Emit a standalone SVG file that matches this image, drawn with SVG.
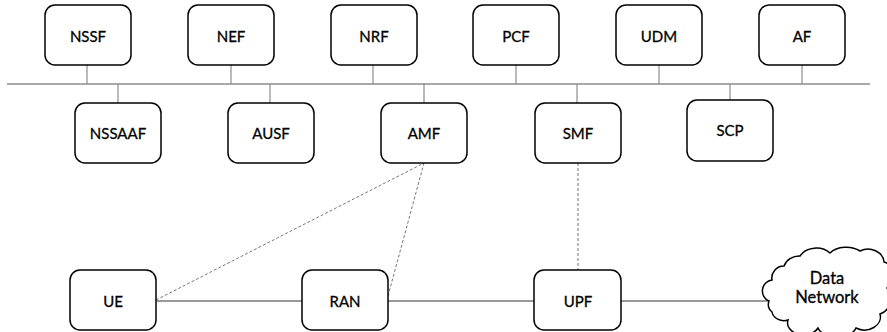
<svg xmlns="http://www.w3.org/2000/svg" width="887" height="332" viewBox="0 0 887 332">
<style>
.box{fill:#fff;stroke:#000;stroke-width:1.5}
.lbl{font-family:Lato,"Open Sans","Liberation Sans",sans-serif;font-size:15px;fill:#000;stroke:#000;stroke-width:0.3;text-anchor:middle;dominant-baseline:central}
.big{font-size:16.5px}
.bus{stroke:#8c8c8c;stroke-width:1.5;fill:none}
.stem{stroke:#8c8c8c;stroke-width:1.2;fill:none}
.link{stroke:#999;stroke-width:2;fill:none}
.dash{stroke:#777;stroke-width:1;stroke-dasharray:3 2;fill:none}
</style>
<rect width="887" height="332" fill="#fff"/>
<g id="connectors">
<line class="bus" x1="7" y1="84" x2="870" y2="84"/>
<line class="stem" x1="87" y1="65" x2="87" y2="84"/>
<line class="stem" x1="231" y1="65" x2="231" y2="84"/>
<line class="stem" x1="373" y1="65" x2="373" y2="84"/>
<line class="stem" x1="516" y1="65" x2="516" y2="84"/>
<line class="stem" x1="659" y1="65" x2="659" y2="84"/>
<line class="stem" x1="802" y1="65" x2="802" y2="84"/>
<line class="stem" x1="118" y1="84" x2="118" y2="103"/>
<line class="stem" x1="270" y1="84" x2="270" y2="103"/>
<line class="stem" x1="424" y1="84" x2="424" y2="103"/>
<line class="stem" x1="577" y1="84" x2="577" y2="103"/>
<line class="stem" x1="730" y1="84" x2="730" y2="100"/>
<line class="link" x1="156" y1="301" x2="302" y2="301"/>
<line class="link" x1="388" y1="301" x2="534" y2="301"/>
<line class="link" x1="621" y1="301" x2="768" y2="301"/>
<line class="dash" x1="156" y1="300" x2="424" y2="163"/>
<line class="dash" x1="388" y1="296" x2="424" y2="163"/>
<line class="dash" x1="578" y1="163" x2="578" y2="270"/>
</g>
<g id="NSSF"><rect class="box" x="45" y="5" width="86" height="60" rx="10"/><text class="lbl" x="88" y="36">NSSF</text></g>
<g id="NEF"><rect class="box" x="188" y="5" width="86" height="60" rx="10"/><text class="lbl" x="231" y="36">NEF</text></g>
<g id="NRF"><rect class="box" x="331" y="5" width="86" height="60" rx="10"/><text class="lbl" x="374" y="36">NRF</text></g>
<g id="PCF"><rect class="box" x="473" y="5" width="86" height="60" rx="10"/><text class="lbl" x="516" y="36">PCF</text></g>
<g id="UDM"><rect class="box" x="616" y="5" width="86" height="60" rx="10"/><text class="lbl" x="659" y="36">UDM</text></g>
<g id="AF"><rect class="box" x="759" y="5" width="86" height="60" rx="10"/><text class="lbl" x="802" y="36">AF</text></g>
<g id="NSSAAF"><rect class="box" x="75" y="103" width="86" height="60" rx="10"/><text class="lbl" x="118" y="133">NSSAAF</text></g>
<g id="AUSF"><rect class="box" x="228" y="103" width="86" height="60" rx="10"/><text class="lbl" x="271" y="133">AUSF</text></g>
<g id="AMF"><rect class="box" x="381" y="103" width="86" height="60" rx="10"/><text class="lbl" x="424" y="133">AMF</text></g>
<g id="SMF"><rect class="box" x="535" y="103" width="86" height="60" rx="10"/><text class="lbl" x="578" y="133">SMF</text></g>
<g id="SCP"><rect class="box" x="687" y="100" width="86" height="61" rx="10"/><text class="lbl" x="730" y="130">SCP</text></g>
<g id="UE"><rect class="box" x="70" y="270" width="86" height="60" rx="10"/><text class="lbl" x="113" y="301">UE</text></g>
<g id="RAN"><rect class="box" x="302" y="270" width="86" height="60" rx="10"/><text class="lbl" x="345" y="301">RAN</text></g>
<g id="UPF"><rect class="box" x="534" y="270" width="87" height="60" rx="10"/><text class="lbl" x="578" y="301">UPF</text></g>
<g id="DataNetwork">
<path class="box" d="M 769,301 A 11 11 0 0 1 772,280 A 12 12 0 0 1 784,266 A 16 14 0 0 1 800,256 A 18 14 0 0 1 830,253 A 20 14 0 0 1 860,251 A 16 14 0 0 1 884,262 A 14 14 0 0 1 887,288 A 14 16 0 0 1 880,314 A 16 13 0 0 1 856,328 A 20 14 0 0 1 818,328 A 16 12 0 0 1 788,320 A 12 10 0 0 1 772,312 A 10 10 0 0 1 769,301 Z"/>
<text class="lbl big" x="827" y="278">Data</text>
<text class="lbl big" x="827" y="297">Network</text>
</g>
</svg>
